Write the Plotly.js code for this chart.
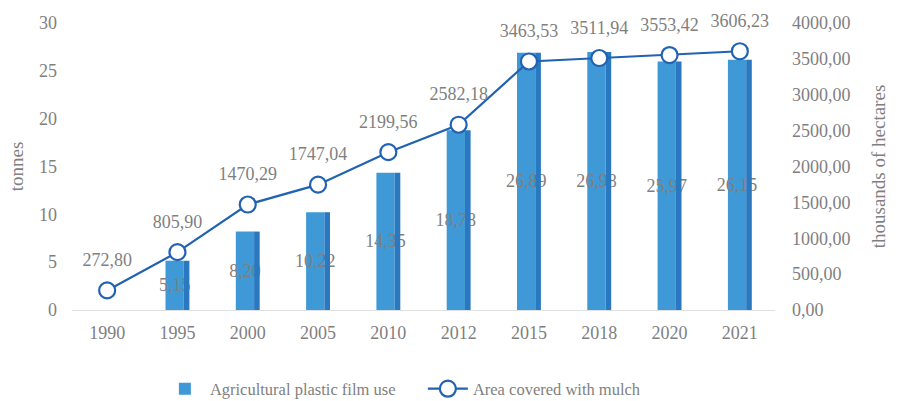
<!DOCTYPE html>
<html>
<head>
<meta charset="utf-8">
<script src="https://cdn.plot.ly/plotly-3.0.1.min.js"></script>
<style>html,body{margin:0;padding:0;background:#fff;}#chart{width:901px;height:401px;}</style>
</head>
<body>
<div id="chart"></div>
<script>
var years = ["1990","1995","2000","2005","2010","2012","2015","2018","2020","2021"];
var filmUse = [null, 5.15, 8.20, 10.22, 14.35, 18.78, 26.89, 26.98, 25.97, 26.15];
var mulchArea = [272.80, 805.90, 1470.29, 1747.04, 2199.56, 2582.18, 3463.53, 3511.94, 3553.42, 3606.23];
var leftTicks = [0, 5, 10, 15, 20, 25, 30];
var rightTicks = [0, 500, 1000, 1500, 2000, 2500, 3000, 3500, 4000];

function fmt(v){ return v === null ? "" : v.toFixed(2).replace(".", ","); }

var FONT = "Liberation Serif, Times New Roman, serif";
var GRAY = "#7f7f7f";

var front = {
  type: "bar", name: "Agricultural plastic film use",
  x: years, y: filmUse,
  width: 0.26, offset: -0.17,
  marker: {color: "#3f99d6"},
  text: filmUse.map(fmt), textposition: "inside", insidetextanchor: "middle",
  constraintext: "none", textangle: 0,
  textfont: {family: FONT, size: 18, color: GRAY},
  hoverinfo: "skip"
};
var side = {
  type: "bar", name: "side", showlegend: false,
  x: years, y: filmUse,
  width: 0.08, offset: 0.09,
  marker: {color: "#2a78bf"},
  hoverinfo: "skip"
};
var line = {
  type: "scatter", mode: "lines+markers", name: "Area covered with mulch",
  x: years, y: mulchArea, yaxis: "y2",
  line: {color: "#2262b2", width: 2.2},
  marker: {size: 16, color: "#ffffff", line: {color: "#2262b2", width: 2.2}},
  cliponaxis: false
};
var lineLabels = {
  type: "scatter", mode: "markers+text", name: "labels", showlegend: false,
  x: years, y: mulchArea, yaxis: "y2",
  marker: {size: 30, color: "rgba(0,0,0,0)"},
  text: mulchArea.map(fmt), textposition: "top center",
  textfont: {family: FONT, size: 18, color: GRAY},
  cliponaxis: false, hoverinfo: "skip"
};

var layout = {
  width: 901, height: 401,
  margin: {l: 72, r: 126, t: 23, b: 91, autoexpand: false},
  paper_bgcolor: "#fff", plot_bgcolor: "rgba(0,0,0,0)",
  barmode: "overlay",
  font: {family: FONT, size: 18, color: GRAY},
  showlegend: true,
  legend: {orientation: "h", x: 0.125, xanchor: "left", yref: "container", y: 0.03, yanchor: "middle",
           font: {family: FONT, size: 16.5, color: GRAY}, traceorder: "normal", itemwidth: 40,
           entrywidth: 208, entrywidthmode: "pixels"},
  xaxis: {type: "category", range: [-0.5, 9.5], autorange: false, showgrid: false, zeroline: false,
          showline: true, automargin: false,
          linecolor: "#e0e0e0", ticks: "", ticklabelstandoff: 6, tickfont: {family: FONT, size: 18, color: GRAY}},
  yaxis: {range: [0, 30], tickvals: leftTicks, showgrid: false, zeroline: false, automargin: false,
          showline: false, ticks: "", ticklabelstandoff: 14, tickfont: {family: FONT, size: 18, color: GRAY},
          title: {text: "tonnes", font: {family: FONT, size: 19, color: GRAY}, standoff: 10}},
  yaxis2: {range: [0, 4000], tickvals: rightTicks, ticktext: rightTicks.map(function(v){return fmt(v);}),
           overlaying: "y", side: "right", showgrid: false, zeroline: false, showline: false, automargin: false,
           ticks: "", ticklabelstandoff: 16, tickfont: {family: FONT, size: 18, color: GRAY},
           title: {text: "thousands of hectares", font: {family: FONT, size: 19, color: GRAY}, standoff: 22}}
};

Plotly.newPlot("chart", [front, side, line, lineLabels], layout, {displayModeBar: false, staticPlot: true});
</script>
</body>
</html>
